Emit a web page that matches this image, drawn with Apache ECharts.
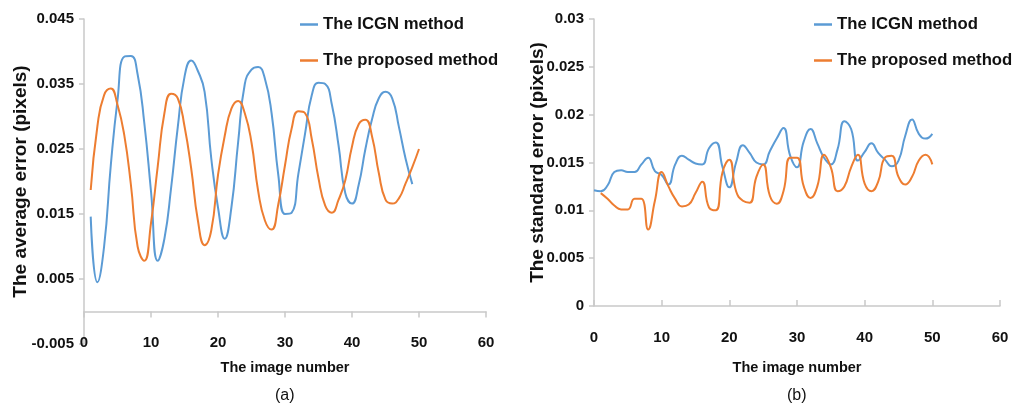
<!DOCTYPE html>
<html>
<head>
<meta charset="utf-8">
<script src="https://cdn.jsdelivr.net/npm/echarts@6/dist/echarts.min.js"></script>
<style>
html,body{margin:0;padding:0;background:#fff;}
#c{width:1012px;height:412px;}
</style>
</head>
<body>
<div id="c"></div>
<script>
// ---- data ----
var seriesNames = ['The ICGN method', 'The proposed method'];
var xTickLabels = [0, 10, 20, 30, 40, 50, 60];

// (a) average error, blue starts at image 1 (49 points), orange 1..50
var icgnAvg = [0.0146,0.0045,0.0100,0.0225,0.0325,0.0392,0.0393,0.0365,0.0290,0.0185,
  0.0078,0.0112,0.0190,0.0284,0.0361,0.0386,0.0370,0.0338,0.0235,0.0160,
  0.0112,0.0160,0.0260,0.0350,0.0372,0.0376,0.0358,0.0305,0.0210,0.0150,
  0.0152,0.0212,0.0274,0.0333,0.0352,0.0350,0.0318,0.0255,0.0182,0.0166,
  0.0195,0.0250,0.0296,0.0328,0.0338,0.0328,0.0284,0.0235,0.0196];
var proposedAvg = [0.0187,0.0285,0.0333,0.0343,0.0318,0.0272,0.0195,0.0100,0.0078,0.0136,
  0.0223,0.0305,0.0335,0.0328,0.0285,0.0220,0.0140,0.0102,0.0125,0.0210,
  0.0270,0.0312,0.0324,0.0305,0.0260,0.0185,0.0140,0.0126,0.0165,0.0225,
  0.0282,0.0308,0.0305,0.0265,0.0205,0.0163,0.0152,0.0172,0.0202,0.0254,
  0.0288,0.0295,0.0269,0.0213,0.0172,0.0166,0.0174,0.0197,0.0222,0.0250];

// (b) standard error, blue 0..50, orange 1..50
var icgnStd = [0.0121,0.0120,0.0126,0.0140,0.0142,0.0140,0.0140,0.0148,0.0155,0.0141,
  0.0137,0.0127,0.0148,0.0157,0.0153,0.0149,0.0148,0.0165,0.0171,0.0145,
  0.0124,0.0150,0.0168,0.0160,0.0150,0.0148,0.0162,0.0175,0.0186,0.0157,
  0.0145,0.0172,0.0185,0.0170,0.0155,0.0148,0.0164,0.0193,0.0185,0.0152,
  0.0161,0.0170,0.0160,0.0153,0.0146,0.0152,0.0178,0.0195,0.0180,0.0175,
  0.0180];
var proposedStd = [0.0118,0.0112,0.0105,0.0101,0.0101,0.0112,0.0112,0.0080,0.0110,0.0140,
  0.0125,0.0112,0.0104,0.0106,0.0118,0.0130,0.0103,0.0100,0.0140,0.0153,
  0.0120,0.0110,0.0108,0.0135,0.0148,0.0115,0.0107,0.0120,0.0155,0.0155,
  0.0125,0.0113,0.0125,0.0158,0.0145,0.0120,0.0125,0.0145,0.0158,0.0128,
  0.0120,0.0130,0.0155,0.0157,0.0135,0.0127,0.0135,0.0152,0.0158,0.0148];

function pairs(arr, x0){ return arr.map(function(v,i){ return [x0+i, v]; }); }

var BLUE = '#5B9BD5', ORANGE = '#ED7D31', AXIS = '#c9c9c9', INK = '#111';
var FONT = '"Liberation Sans Narrow","Liberation Sans",Arial,sans-serif';
var lblStyle = {fontFamily: FONT, fontWeight: 'bold', fontSize: 15, color: INK};
function fmt(v){ return String(parseFloat(Number(v).toFixed(4))); }

var chart = echarts.init(document.getElementById('c'), null, {renderer: 'canvas'});
function legend(left){
  return {
    left: left, top: 11, orient: 'vertical', itemGap: 19,
    itemWidth: 18, itemHeight: 2.5, icon: 'rect',
    textStyle: {fontFamily: FONT, fontWeight: 'bold', fontSize: 16.7, color: INK},
    data: seriesNames
  };
}
var option = {
  animation: false,
  backgroundColor: '#fff',
  legend: [legend(295), legend(809)],
  grid: [
    {left: 84, top: 19, width: 402, height: 325},
    {left: 594, top: 19, width: 406, height: 287}
  ],
  xAxis: [
    { gridIndex: 0, type: 'value', min: 0, max: 60, interval: 10,
      axisLine: {show: false, onZero: false}, axisTick: {show: false}, splitLine: {show: false},
      axisLabel: Object.assign({margin: -9, formatter: function(v){return xTickLabels.indexOf(v)>=0 ? String(v) : '';}}, lblStyle),
      name: 'The image number', nameLocation: 'middle', nameGap: 16, nameMoveOverlap: false,
      nameTextStyle: {fontFamily: FONT, fontWeight: 'bold', fontSize: 14.5, color: INK} },
    { gridIndex: 0, type: 'value', min: 0, max: 60, interval: 10,
      axisLine: {show: true, onZero: true, lineStyle: {color: AXIS, width: 1.5}},
      axisTick: {show: true, inside: true, length: 6, lineStyle: {color: AXIS, width: 1.5}},
      axisLabel: {show: false}, splitLine: {show: false} },
    { gridIndex: 1, type: 'value', min: 0, max: 60, interval: 10,
      axisLine: {show: true, lineStyle: {color: AXIS, width: 1.5}},
      axisTick: {show: true, inside: true, length: 6, lineStyle: {color: AXIS, width: 1.5}},
      splitLine: {show: false},
      axisLabel: Object.assign({margin: 24}, lblStyle),
      name: 'The image number', nameLocation: 'middle', nameGap: 54, nameMoveOverlap: false,
      nameTextStyle: {fontFamily: FONT, fontWeight: 'bold', fontSize: 14.5, color: INK} }
  ],
  yAxis: [
    { gridIndex: 0, type: 'value', min: -0.005, max: 0.045, interval: 0.01,
      axisLine: {show: true, lineStyle: {color: AXIS, width: 1.5}},
      axisTick: {show: true, length: 5, lineStyle: {color: AXIS, width: 1.5}},
      splitLine: {show: false},
      axisLabel: Object.assign({margin: 10, formatter: fmt}, lblStyle),
      name: 'The average error (pixels)', nameLocation: 'middle', nameRotate: 90, nameGap: 54, nameMoveOverlap: false,
      nameTextStyle: {fontFamily: FONT, fontWeight: 'bold', fontSize: 19, color: INK} },
    { gridIndex: 1, type: 'value', min: 0, max: 0.03, interval: 0.005,
      axisLine: {show: true, lineStyle: {color: AXIS, width: 1.5}},
      axisTick: {show: true, length: 5, lineStyle: {color: AXIS, width: 1.5}},
      splitLine: {show: false},
      axisLabel: Object.assign({margin: 10, formatter: fmt}, lblStyle),
      name: 'The standard error (pixels)', nameLocation: 'middle', nameRotate: 90, nameGap: 47, nameMoveOverlap: false,
      nameTextStyle: {fontFamily: FONT, fontWeight: 'bold', fontSize: 19, color: INK} }
  ],
  series: [
    {name: seriesNames[0], type: 'line', xAxisIndex: 0, yAxisIndex: 0, data: pairs(icgnAvg, 1),
     smooth: 0.5, symbol: 'none', color: BLUE, lineStyle: {width: 2, color: BLUE}},
    {name: seriesNames[1], type: 'line', xAxisIndex: 0, yAxisIndex: 0, data: pairs(proposedAvg, 1),
     smooth: 0.5, symbol: 'none', color: ORANGE, lineStyle: {width: 2, color: ORANGE}},
    {name: seriesNames[0], type: 'line', xAxisIndex: 2, yAxisIndex: 1, data: pairs(icgnStd, 0),
     smooth: 0.5, symbol: 'none', color: BLUE, lineStyle: {width: 2, color: BLUE}},
    {name: seriesNames[1], type: 'line', xAxisIndex: 2, yAxisIndex: 1, data: pairs(proposedStd, 1),
     smooth: 0.5, symbol: 'none', color: ORANGE, lineStyle: {width: 2, color: ORANGE}}
  ],
  graphic: [
    {type: 'text', left: 275, top: 388, style: {text: '(a)', font: '16px "Liberation Sans", Arial, sans-serif', fill: INK}},
    {type: 'text', left: 787, top: 388, style: {text: '(b)', font: '16px "Liberation Sans", Arial, sans-serif', fill: INK}}
  ]
};
chart.setOption(option);
</script>
</body>
</html>
